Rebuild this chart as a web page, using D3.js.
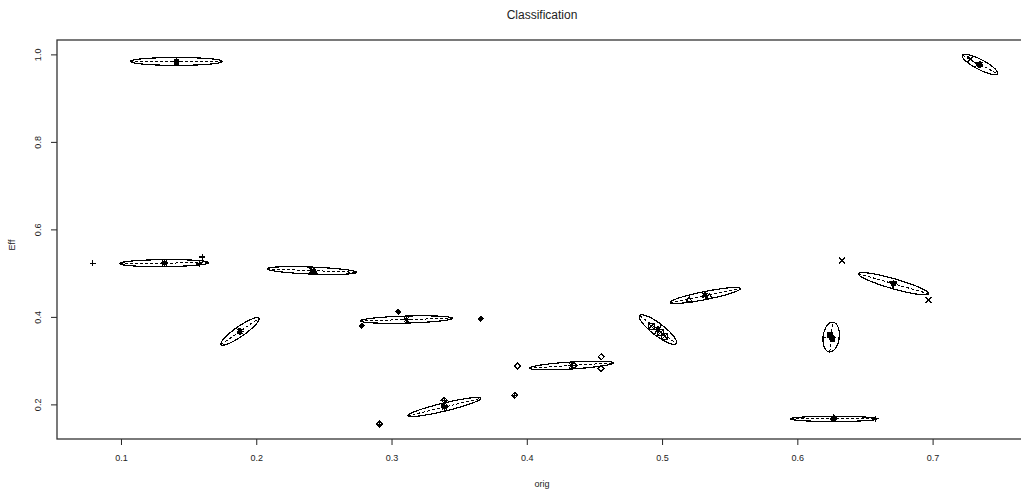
<!DOCTYPE html>
<html>
<head>
<meta charset="utf-8">
<script src="https://cdn.jsdelivr.net/npm/d3@7"></script>
<style>
  body { margin: 0; background: #fff; }
  text { font-family: "Liberation Sans", Arial, sans-serif; fill: #222; }
</style>
</head>
<body>
<div id="root"></div>
<script>
// Cluster ellipses: centre, major half-axis (u) and minor half-axis (v), in data units
const ellCx = [0.141, 0.132, 0.188, 0.241, 0.311, 0.339, 0.433, 0.497, 0.532, 0.625, 0.627, 0.671, 0.735];
const ellCy = [0.985, 0.524, 0.368, 0.507, 0.395, 0.195, 0.290, 0.372, 0.450, 0.355, 0.168, 0.477, 0.978];
const ellUx = [0.034, 0.033, 0.014, 0.033, 0.034, 0.027, 0.031, 0.0135, 0.026, 0.001, 0.032, 0.026, 0.013];
const ellUy = [0.000, 0.001, 0.030, -0.004, 0.003, 0.020, 0.006, -0.032, 0.016, 0.034, 0.000, -0.023, -0.021];
const ellVx = [0.000, 0.000, 0.002, 0.000, 0.000, 0.0007, 0.000, 0.0027, 0.0006, 0.006, 0.000, 0.001, 0.0017];
const ellVy = [0.009, 0.008, -0.0095, 0.008, 0.008, -0.009, 0.008, 0.011, -0.009, 0.000, 0.006, 0.011, 0.010];

// Observations and their class symbol (R pch codes)
const ptX = [0.141, 0.141,
  0.079, 0.160, 0.158, 0.131,
  0.243,
  0.278, 0.305, 0.366,
  0.339, 0.339, 0.291, 0.391,
  0.393, 0.455, 0.455, 0.435,
  0.492, 0.499, 0.502,
  0.520, 0.535,
  0.624, 0.626,
  0.627, 0.658,
  0.671,
  0.733, 0.728, 0.633, 0.697];
const ptY = [0.985, 0.982,
  0.524, 0.538, 0.522, 0.523,
  0.505,
  0.381, 0.413, 0.397,
  0.210, 0.199, 0.156, 0.222,
  0.289, 0.310, 0.283, 0.290,
  0.380, 0.366, 0.357,
  0.440, 0.447,
  0.360, 0.350,
  0.172, 0.168,
  0.476,
  0.977, 0.990, 0.530, 0.440];
const ptSym = [16, 16,
  3, 3, 3, 3,
  17,
  18, 18, 18,
  9, 9, 9, 9,
  5, 5, 5, 5,
  7, 7, 7,
  2, 2,
  15, 15,
  3, 3,
  6,
  4, 4, 4, 4];

const xTicks = [0.1, 0.2, 0.3, 0.4, 0.5, 0.6, 0.7];
const yTicks = [0.2, 0.4, 0.6, 0.8, 1.0];

// Symbol paths centred on 0,0
function symbolPath(pch, s) {
  const h = s / 2;
  const circ = (r) => `M${-r},0A${r},${r} 0 1,0 ${r},0A${r},${r} 0 1,0 ${-r},0Z`;
  switch (pch) {
    case 3: return `M${-h},0H${h}M0,${-h}V${h}`;
    case 4: return `M${-h},${-h}L${h},${h}M${-h},${h}L${h},${-h}`;
    case 8: return `M${-h},0H${h}M0,${-h}V${h}M${-h * 0.7},${-h * 0.7}L${h * 0.7},${h * 0.7}M${-h * 0.7},${h * 0.7}L${h * 0.7},${-h * 0.7}`;
    case 5: return `M0,${-h}L${h},0L0,${h}L${-h},0Z`;
    case 9: return `M0,${-h}L${h},0L0,${h}L${-h},0ZM${-h},0H${h}M0,${-h}V${h}`;
    case 18: return `M0,${-h * 0.8}L${h * 0.8},0L0,${h * 0.8}L${-h * 0.8},0Z`;
    case 2: return `M0,${-h}L${h},${h * 0.7}L${-h},${h * 0.7}Z`;
    case 6: return `M0,${h}L${h},${-h * 0.7}L${-h},${-h * 0.7}Z`;
    case 17: return `M0,${-h}L${h},${h * 0.7}L${-h},${h * 0.7}Z`;
    case 7: return `M${-h},${-h}H${h}V${h}H${-h}ZM${-h},${-h}L${h},${h}M${-h},${h}L${h},${-h}`;
    case 15: return `M${-h * 0.8},${-h * 0.8}H${h * 0.8}V${h * 0.8}H${-h * 0.8}Z`;
    case 16: return circ(h * 0.8);
    default: return circ(h);
  }
}
const filledSyms = [15, 16, 17, 18];

function drawChart() {
  const fullWidth = 1021;
  const fullHeight = 495;
  const plot = { left: 57, top: 40, right: 1030, bottom: 439 };

  const svg = d3
    .select("#root")
    .append("svg")
    .attr("width", fullWidth)
    .attr("height", fullHeight);

  const xScale = d3.scaleLinear().domain([0.0527, 0.772]).range([plot.left, plot.right]);
  const yScale = d3.scaleLinear().domain([0.122, 1.034]).range([plot.bottom, plot.top]);

  // Title
  svg.append("text")
    .attr("x", 542)
    .attr("y", 19)
    .attr("text-anchor", "middle")
    .style("font-size", "12px")
    .text("Classification");

  // Axes (R style: outward ticks, rotated y labels)
  const xAxis = d3.axisBottom(xScale).tickValues(xTicks).tickSize(6).tickFormat(d3.format(".1f"));
  const gx = svg.append("g")
    .attr("transform", `translate(0,${plot.bottom})`)
    .call(xAxis);
  gx.select(".domain").remove();
  gx.selectAll("line").attr("stroke", "#222");
  gx.selectAll("text").attr("dy", null).attr("y", 22).style("font-size", "9px").style("font-family", "Liberation Sans, Arial, sans-serif");

  const yAxis = d3.axisLeft(yScale).tickValues(yTicks).tickSize(6).tickFormat(d3.format(".1f"));
  const gy = svg.append("g")
    .attr("transform", `translate(${plot.left},0)`)
    .call(yAxis);
  gy.select(".domain").remove();
  gy.selectAll("line").attr("stroke", "#222");
  gy.selectAll("text")
    .attr("x", null).attr("dy", null)
    .attr("text-anchor", "middle")
    .attr("transform", (d) => `translate(-16,${yScale(d)}) rotate(-90)`)
    .attr("y", 0)
    .style("font-size", "9px")
    .style("font-family", "Liberation Sans, Arial, sans-serif");
  gy.selectAll(".tick").attr("transform", null);
  gy.selectAll(".tick line").attr("y1", (d) => yScale(d)).attr("y2", (d) => yScale(d));

  // Plot box
  svg.append("rect")
    .attr("x", plot.left)
    .attr("y", plot.top)
    .attr("width", plot.right - plot.left)
    .attr("height", plot.bottom - plot.top)
    .attr("fill", "none")
    .attr("stroke", "#333")
    .attr("stroke-width", 1.3);

  // Axis titles
  svg.append("text")
    .attr("x", 542)
    .attr("y", 487)
    .attr("text-anchor", "middle")
    .style("font-size", "9px")
    .text("orig");
  svg.append("text")
    .attr("transform", "translate(15,245) rotate(-90)")
    .attr("text-anchor", "middle")
    .style("font-size", "9px")
    .text("Eff");

  const marks = svg.append("g").style("shape-rendering", "crispEdges");

  // Ellipses with dashed axes and centre asterisk
  const line = d3.line().x((p) => xScale(p[0])).y((p) => yScale(p[1]));
  ellCx.forEach((cx, i) => {
    const cy = ellCy[i];
    const u = [ellUx[i], ellUy[i]];
    const v = [ellVx[i], ellVy[i]];
    const pts = d3.range(0, 61).map((k) => {
      const t = (k / 60) * 2 * Math.PI;
      return [cx + u[0] * Math.cos(t) + v[0] * Math.sin(t), cy + u[1] * Math.cos(t) + v[1] * Math.sin(t)];
    });
    marks.append("path")
      .attr("d", line(pts))
      .attr("fill", "none")
      .attr("stroke", "#000")
      .attr("stroke-width", 1.2);
    marks.append("path")
      .attr("d", line([[cx - u[0], cy - u[1]], [cx + u[0], cy + u[1]]]))
      .attr("stroke", "#000")
      .attr("stroke-dasharray", "3,2");
    marks.append("path")
      .attr("d", line([[cx - v[0], cy - v[1]], [cx + v[0], cy + v[1]]]))
      .attr("stroke", "#000")
      .attr("stroke-dasharray", "3,2");
    marks.append("path")
      .attr("transform", `translate(${xScale(cx)},${yScale(cy)})`)
      .attr("d", symbolPath(8, 7))
      .attr("fill", "none")
      .attr("stroke", "#000")
      .attr("stroke-width", 1.3);
  });

  // Observations
  marks.selectAll(".pt")
    .data(ptX.map((x, i) => ({ x, y: ptY[i], s: ptSym[i] })))
    .enter()
    .append("path")
    .attr("class", "pt")
    .attr("transform", (d) => `translate(${xScale(d.x)},${yScale(d.y)})`)
    .attr("d", (d) => symbolPath(d.s, 6))
    .attr("fill", (d) => (filledSyms.includes(d.s) ? "#000" : "none"))
    .attr("stroke", "#000")
    .attr("stroke-width", 1.1);
}

drawChart();
</script>
</body>
</html>
